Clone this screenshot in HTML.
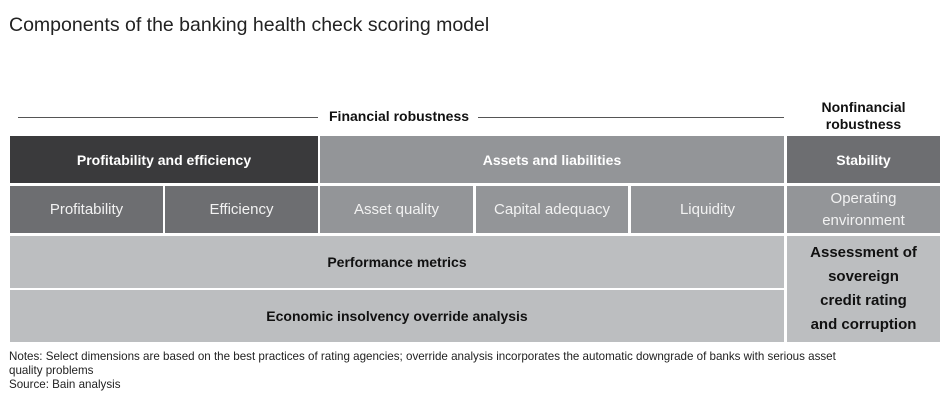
<!DOCTYPE html>
<html><head><meta charset="utf-8"><style>
body{margin:0;width:950px;height:413px;background:#fff;font-family:"Liberation Sans",sans-serif;position:relative;overflow:hidden}
.a{position:absolute;display:flex;align-items:center;justify-content:center;text-align:center;box-sizing:border-box}
.b{font-weight:bold;font-size:14px}
.n{font-size:15px;color:#f2f2f2}
.ln{position:absolute;height:1px;background:#555}
.t{position:absolute;white-space:nowrap}
</style></head><body>
<div class="t" style="left:9px;top:14px;font-size:19.5px;color:#222">Components of the banking health check scoring model</div>
<div class="ln" style="left:18px;top:117px;width:300px"></div>
<div class="t b" style="left:329px;top:108px;color:#111">Financial robustness</div>
<div class="ln" style="left:478px;top:117px;width:306px"></div>
<div class="a b" style="left:787px;top:98px;width:153px;height:36px;line-height:17px;color:#111">Nonfinancial<br>robustness</div>

<div class="a b" style="left:10px;top:136px;width:308px;height:47px;background:#3a3a3c;color:#fff">Profitability and efficiency</div>
<div class="a b" style="left:320px;top:136px;width:464px;height:47px;background:#939598;color:#fff">Assets and liabilities</div>
<div class="a b" style="left:787px;top:136px;width:153px;height:47px;background:#6d6e71;color:#fff">Stability</div>

<div class="a n" style="left:10px;top:186px;width:153px;height:47px;background:#6d6e71">Profitability</div>
<div class="a n" style="left:165px;top:186px;width:153px;height:47px;background:#6d6e71">Efficiency</div>
<div class="a n" style="left:320px;top:186px;width:153px;height:47px;background:#939598">Asset quality</div>
<div class="a n" style="left:476px;top:186px;width:152px;height:47px;background:#939598">Capital adequacy</div>
<div class="a n" style="left:631px;top:186px;width:153px;height:47px;background:#939598">Liquidity</div>
<div class="a n" style="left:787px;top:186px;width:153px;height:47px;background:#939598;line-height:22px">Operating<br>environment</div>

<div class="a b" style="left:10px;top:236px;width:774px;height:52px;background:#bcbec0;color:#111">Performance metrics</div>
<div class="a b" style="left:10px;top:290px;width:774px;height:52px;background:#bcbec0;color:#111">Economic insolvency override analysis</div>
<div class="a b" style="left:787px;top:236px;width:153px;height:106px;background:#bcbec0;color:#111;font-size:15px;line-height:24px">Assessment of<br>sovereign<br>credit rating<br>and corruption</div>

<div class="t" style="left:9px;top:350px;font-size:11.6px;color:#222;line-height:14px">Notes: Select dimensions are based on the best practices of rating agencies; override analysis incorporates the automatic downgrade of banks with serious asset<br>quality problems<br>Source: Bain analysis</div>
</body></html>
